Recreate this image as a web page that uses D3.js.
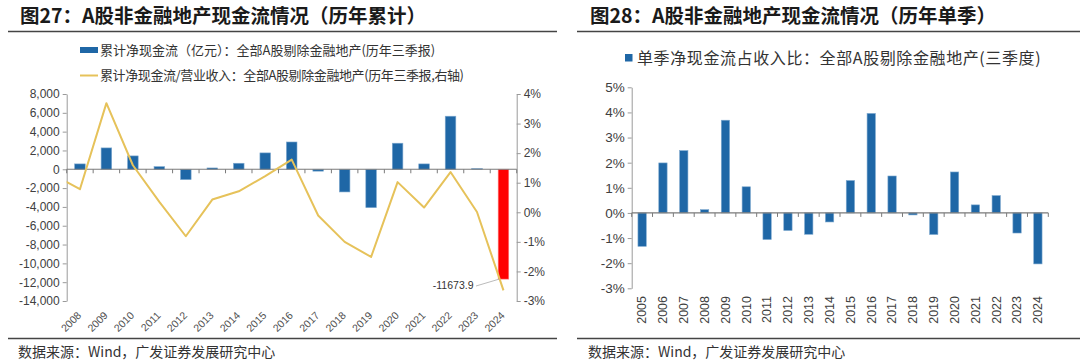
<!DOCTYPE html>
<html><head><meta charset="utf-8">
<script src="https://cdn.jsdelivr.net/npm/d3@7"></script>
<style>body{margin:0;background:#fff} svg{display:block}</style>
</head><body>
<svg id="c" width="1080" height="364"></svg>
<script>
// ---------- data: chart 27 ----------
const years1 = ["2008","2009","2010","2011","2012","2013","2014","2015","2016","2017","2018","2019","2020","2021","2022","2023","2024"];
const cashFlow = [570,2270,1420,280,-1100,140,640,1740,2900,-200,-2410,-4080,2770,570,5640,70,-11673.9];
const lineYears = ["2007","2008","2009","2010","2011","2012","2013","2014","2015","2016","2017","2018","2019","2020","2021","2022","2023","2024"];
const cashRatio = [1.27,0.78,3.69,1.59,0.35,-0.81,0.43,0.71,1.22,1.78,-0.11,-1.0,-1.51,1.02,0.16,1.36,0.01,-2.64];
const leftTicks = [-14000,-12000,-10000,-8000,-6000,-4000,-2000,0,2000,4000,6000,8000];
const rightTicks = [-3,-2,-1,0,1,2,3,4];
// ---------- data: chart 28 ----------
const years2 = ["2005","2006","2007","2008","2009","2010","2011","2012","2013","2014","2015","2016","2017","2018","2019","2020","2021","2022","2023","2024"];
const quarterRatio = [-1.33,1.99,2.48,0.13,3.69,1.04,-1.06,-0.70,-0.85,-0.36,1.29,3.96,1.47,-0.08,-0.86,1.63,0.32,0.69,-0.80,-2.03];
const ticks2 = [-3,-2,-1,0,1,2,3,4,5];

const title1 = "图27：A股非金融地产现金流情况（历年累计）";
const title2 = "图28：A股非金融地产现金流情况（历年单季）";
const legend1a = "累计净现金流（亿元）：全部A股剔除金融地产(历年三季报)";
const legend1b = "累计净现金流/营业收入：全部A股剔除金融地产(历年三季报,右轴)";
const legend2 = "单季净现金流占收入比：全部A股剔除金融地产(三季度)";
const source = "数据来源：Wind，广发证券发展研究中心";

const BLUE = "#1F67A6", RED = "#FF0000", GOLD = "#E6C25A", AX = "#9a9a9a", TX = "#404040";
const CJK = "'Noto Sans CJK SC','Noto Sans',sans-serif";
const NUM = "'Liberation Sans',Arial,sans-serif";
const loc = d3.formatLocale({decimal:".", thousands:",", grouping:[3], currency:["",""], minus:"-"});
const fmtComma = loc.format(",");

const svg = d3.select("#c");

// ---------- headers / footers ----------
function header(x0, x1, tx, title) {
  svg.append("text").attr("x", tx).attr("y", 22.5).text(title)
    .attr("font-family", CJK).attr("font-weight", "bold").attr("font-size", 19.5).attr("fill", "#1a1a1a");
  svg.append("line").attr("x1", x0).attr("x2", x1).attr("y1", 31.5).attr("y2", 31.5)
    .attr("stroke", "#444").attr("stroke-width", 1.5);
  svg.append("line").attr("x1", x0).attr("x2", x1).attr("y1", 338.5).attr("y2", 338.5)
    .attr("stroke", "#444").attr("stroke-width", 1.5);
  svg.append("text").attr("x", tx - 2).attr("y", 357).text(source)
    .attr("font-family", CJK).attr("font-size", 14).attr("fill", "#333");
}
header(8, 557, 20, title1);
header(577, 1080, 590, title2);

// ---------- chart 27 ----------
const L = 66.7, R = 516.7, T = 94, B = 301;
const x1 = d3.scaleBand().domain(years1).range([L, R]).paddingInner(0.6).paddingOuter(0.3);
const xl = d3.scaleBand().domain(lineYears).range([L - x1.step(), R]).paddingInner(0.6).paddingOuter(0.3);
const yL = d3.scaleLinear().domain([-14000, 8000]).range([B, T]);
const yR = d3.scaleLinear().domain([-3, 4]).range([B, T]);

function styleAxis(g, fs) {
  g.select(".domain").attr("stroke", AX);
  g.selectAll(".tick line").attr("stroke", AX);
  g.selectAll(".tick text").attr("fill", TX).attr("font-family", NUM).attr("font-size", fs);
}

const gL = svg.append("g").attr("transform", `translate(${L},0)`)
  .call(d3.axisLeft(yL).tickValues(leftTicks).tickFormat(fmtComma).tickSize(4).tickPadding(3).tickSizeOuter(0));
styleAxis(gL, 12);
const gR = svg.append("g").attr("transform", `translate(${R},0)`)
  .call(d3.axisRight(yR).tickValues(rightTicks).tickFormat(d => d + "%").tickSize(4).tickPadding(3).tickSizeOuter(0));
styleAxis(gR, 12);

// bars
svg.append("g").selectAll("rect").data(years1).join("rect")
  .attr("x", d => x1(d))
  .attr("width", x1.bandwidth())
  .attr("y", (d, i) => yL(Math.max(0, cashFlow[i])))
  .attr("height", (d, i) => Math.abs(yL(cashFlow[i]) - yL(0)))
  .attr("fill", (d, i) => d === "2024" ? RED : BLUE)
  .attr("stroke", (d, i) => d === "2024" ? "#ff8080" : "#7fa9cf").attr("stroke-width", 0.6);

// zero axis with ticks at band boundaries
function zeroAxis(x, y0, n) {
  const g = svg.append("g");
  const r = x.range();
  g.append("line").attr("x1", r[0]).attr("x2", r[1]).attr("y1", y0).attr("y2", y0)
    .attr("stroke", "#7a7a7a").attr("stroke-width", 1.2);
  const bounds = d3.range(n + 1).map(i => r[0] + i * x.step());
  g.selectAll("line.t").data(bounds).join("line").attr("class", "t")
    .attr("x1", d => d).attr("x2", d => d).attr("y1", y0).attr("y2", y0 + 4)
    .attr("stroke", "#7a7a7a").attr("stroke-width", 1);
}
zeroAxis(x1, yL(0), years1.length);

// line (clipped to plot)
svg.append("clipPath").attr("id", "clip1").append("rect")
  .attr("x", L).attr("y", 0).attr("width", R - L).attr("height", 364);
svg.append("path")
  .datum(lineYears.map((d, i) => [xl(d) + xl.bandwidth() / 2, yR(cashRatio[i])]))
  .attr("clip-path", "url(#clip1)")
  .attr("d", d3.line())
  .attr("fill", "none").attr("stroke", GOLD).attr("stroke-width", 2).attr("stroke-linejoin", "round");

// annotation for 2024
{
  const i = years1.indexOf("2024");
  const bx = x1("2024"), by = yL(cashFlow[i]);
  svg.append("line").attr("x1", 476).attr("y1", 286).attr("x2", bx + 1).attr("y2", by)
    .attr("stroke", "#aaa").attr("stroke-width", 0.8);
  svg.append("text").attr("x", 473.5).attr("y", 288.5).attr("text-anchor", "end")
    .attr("font-family", NUM).attr("font-size", 10.5).attr("fill", "#333").text(String(cashFlow[i]));
}

// x labels rotated
svg.append("g").selectAll("text").data(years1).join("text")
  .attr("transform", d => `translate(${x1(d) + x1.bandwidth() / 2 + 2},316) rotate(-45)`)
  .attr("text-anchor", "end").attr("font-family", NUM).attr("font-size", 10.5).attr("fill", "#505050")
  .text(d => d);

// legend 27
svg.append("rect").attr("x", 80).attr("y", 47).attr("width", 18).attr("height", 6).attr("fill", BLUE);
svg.append("text").attr("x", 100).attr("y", 50).attr("dy", "0.35em").text(legend1a)
  .attr("font-family", CJK).attr("font-size", 13).attr("fill", "#333");
svg.append("line").attr("x1", 80).attr("x2", 98).attr("y1", 75.5).attr("y2", 75.5)
  .attr("stroke", GOLD).attr("stroke-width", 2);
svg.append("text").attr("x", 100).attr("y", 75.5).attr("dy", "0.35em").text(legend1b)
  .attr("font-family", CJK).attr("font-size", 13).attr("letter-spacing", -0.4).attr("fill", "#333");

// ---------- chart 28 ----------
const L2 = 631.7, T2 = 87.3, B2 = 288.3;
const x2 = d3.scaleBand().domain(years2).range([L2, L2 + 20 * 20.83]).paddingInner(0.6).paddingOuter(0.3);
const y2 = d3.scaleLinear().domain([-3, 5]).range([B2, T2]);

const g2 = svg.append("g").attr("transform", `translate(${L2},0)`)
  .call(d3.axisLeft(y2).tickValues(ticks2).tickFormat(d => d + "%").tickSize(4).tickPadding(3).tickSizeOuter(0));
styleAxis(g2, 13.5);

svg.append("g").selectAll("rect").data(years2).join("rect")
  .attr("x", d => x2(d))
  .attr("width", x2.bandwidth())
  .attr("y", (d, i) => y2(Math.max(0, quarterRatio[i])))
  .attr("height", (d, i) => Math.abs(y2(quarterRatio[i]) - y2(0)))
  .attr("fill", BLUE).attr("stroke", "#7fa9cf").attr("stroke-width", 0.6);

zeroAxis(x2, y2(0), years2.length);

svg.append("g").selectAll("text").data(years2).join("text")
  .attr("transform", d => `translate(${x2(d) + x2.bandwidth() / 2},296) rotate(-90)`)
  .attr("text-anchor", "end").attr("dy", "0.35em")
  .attr("font-family", NUM).attr("font-size", 12.5).attr("fill", "#404040")
  .text(d => d);

svg.append("rect").attr("x", 625).attr("y", 54).attr("width", 7.5).attr("height", 7.5).attr("fill", BLUE);
svg.append("text").attr("x", 637).attr("y", 58).attr("dy", "0.35em").text(legend2)
  .attr("font-family", CJK).attr("font-size", 16).attr("letter-spacing", 0.6).attr("fill", "#333");
</script>
</body></html>
